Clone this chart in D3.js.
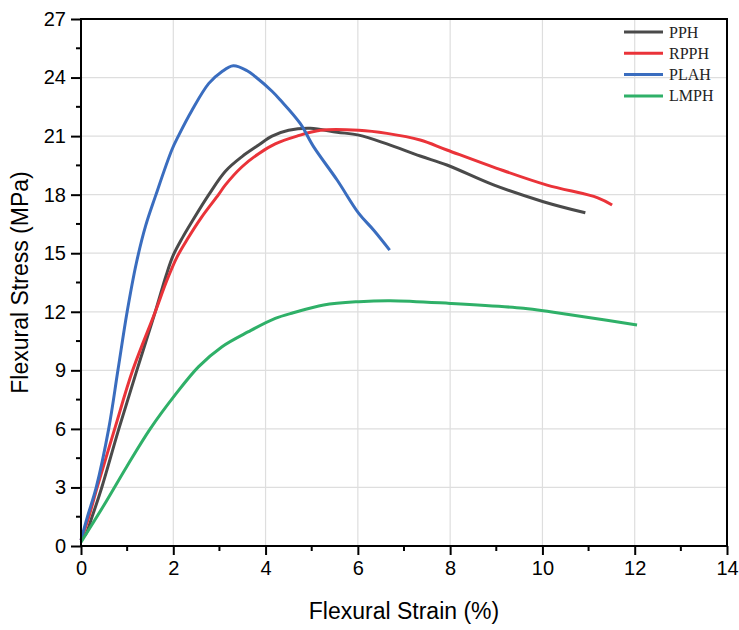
<!DOCTYPE html>
<html>
<head>
<meta charset="utf-8">
<script src="https://cdn.jsdelivr.net/npm/d3@7"></script>
<style>
  body { margin: 0; background: #fff; }
  svg { display: block; }
</style>
</head>
<body>
<div id="chart"></div>
<script>
// values (strain %, stress MPa)
var pphX  = [0, 0.1, 0.24, 0.45, 0.82, 1.21, 1.61, 1.85, 2.0, 2.2, 2.4, 2.77, 3.13, 3.49, 3.85, 4.14, 4.5, 4.97, 5.55, 6.02, 6.63, 7.35, 7.93, 8.94, 10.02, 10.93];
var pphY  = [0.4, 0.6, 1.5, 3.0, 6.0, 9.0, 12.0, 13.9, 14.9, 15.8, 16.6, 18.0, 19.2, 19.95, 20.54, 21.0, 21.3, 21.4, 21.2, 21.05, 20.6, 19.98, 19.52, 18.5, 17.64, 17.07];

var rpphX = [0, 0.17, 0.35, 0.73, 1.12, 1.61, 1.86, 2.08, 2.3, 2.6, 2.98, 3.13, 3.49, 3.85, 4.21, 4.68, 5.19, 6.02, 6.63, 7.35, 7.93, 9.01, 10.1, 11.2, 11.51];
var rpphY = [0.3, 1.5, 3.0, 6.0, 9.0, 12.0, 13.6, 14.8, 15.7, 16.8, 18.0, 18.5, 19.43, 20.1, 20.6, 21.0, 21.3, 21.3, 21.14, 20.8, 20.29, 19.35, 18.49, 17.84, 17.47];

var plahX = [0, 0.14, 0.33, 0.6, 0.8, 1.0, 1.2, 1.4, 1.61, 1.97, 2.12, 2.4, 2.77, 3.05, 3.3, 3.6, 3.78, 4.14, 4.32, 4.75, 5.04, 5.55, 6.02, 6.34, 6.69];
var plahY = [0.3, 1.5, 3.0, 6.0, 9.0, 12.0, 14.5, 16.4, 17.9, 20.3, 21.05, 22.3, 23.7, 24.3, 24.6, 24.35, 24.04, 23.3, 22.85, 21.65, 20.46, 18.75, 17.04, 16.19, 15.16];

var lmphX = [0, 0.5, 1.0, 1.5, 2.04, 2.55, 3.05, 3.63, 4.21, 4.6, 5.26, 6.02, 6.7, 8.0, 9.59, 10.17, 10.89, 12.05];
var lmphY = [0.2, 2.1, 4.1, 6.0, 7.74, 9.19, 10.2, 10.98, 11.66, 11.95, 12.35, 12.52, 12.57, 12.43, 12.18, 12.0, 11.75, 11.32];

var seriesNames  = ['PPH', 'RPPH', 'PLAH', 'LMPH'];
var seriesColors = ['#4a4a4a', '#ea3339', '#3a6dbf', '#2fb068'];

var xTicks = [0, 2, 4, 6, 8, 10, 12, 14];
var yTicks = [0, 3, 6, 9, 12, 15, 18, 21, 24, 27];

var width = 739, height = 630;
var margin = {top: 19, right: 12, bottom: 84, left: 81};

var svg = d3.select('#chart')
  .append('svg')
  .attr('width', width)
  .attr('height', height);

var x = d3.scaleLinear().domain([0, 14]).range([margin.left, width - margin.right]);
var y = d3.scaleLinear().domain([0, 27]).range([height - margin.bottom, margin.top]);

// grid
svg.append('g')
  .selectAll('line.gx')
  .data(xTicks.slice(1, -1))
  .enter().append('line')
  .attr('x1', d => x(d)).attr('x2', d => x(d))
  .attr('y1', y(0)).attr('y2', y(27))
  .attr('stroke', '#dedede').attr('stroke-width', 1.2);

svg.append('g')
  .selectAll('line.gy')
  .data(yTicks.slice(1, -1))
  .enter().append('line')
  .attr('x1', x(0)).attr('x2', x(14))
  .attr('y1', d => y(d)).attr('y2', d => y(d))
  .attr('stroke', '#dedede').attr('stroke-width', 1.2);

// curves
var allX = [pphX, rpphX, plahX, lmphX];
var allY = [pphY, rpphY, plahY, lmphY];

var line = d3.line()
  .x(d => x(d[0]))
  .y(d => y(d[1]))
  .curve(d3.curveCatmullRom.alpha(0.5));

seriesNames.forEach(function(name, i) {
  var pts = allX[i].map((v, j) => [v, allY[i][j]]);
  svg.append('path')
    .datum(pts)
    .attr('d', line)
    .attr('fill', 'none')
    .attr('stroke', seriesColors[i])
    .attr('stroke-width', 3)
    .attr('stroke-linejoin', 'round');
});

// axes
var xAxis = d3.axisBottom(x).tickValues(xTicks).tickSize(9).tickPadding(6);
var yAxis = d3.axisLeft(y).tickValues(yTicks).tickSize(10).tickPadding(5);

var gx = svg.append('g')
  .attr('transform', 'translate(0,' + y(0) + ')')
  .call(xAxis);
var gy = svg.append('g')
  .attr('transform', 'translate(' + x(0) + ',0)')
  .call(yAxis);

[gx, gy].forEach(function(g) {
  g.select('.domain').remove();
  g.selectAll('line').attr('stroke', '#000').attr('stroke-width', 2);
  g.selectAll('text')
    .attr('fill', '#000')
    .style('font-family', 'Liberation Sans, Arial, sans-serif')
    .style('font-size', '20px');
});

// minor ticks
svg.append('g')
  .selectAll('line')
  .data(d3.range(1, 14, 2))
  .enter().append('line')
  .attr('x1', d => x(d)).attr('x2', d => x(d))
  .attr('y1', y(0)).attr('y2', y(0) + 5)
  .attr('stroke', '#000').attr('stroke-width', 2);

svg.append('g')
  .selectAll('line')
  .data(d3.range(1.5, 27, 3))
  .enter().append('line')
  .attr('x1', x(0) - 5).attr('x2', x(0))
  .attr('y1', d => y(d)).attr('y2', d => y(d))
  .attr('stroke', '#000').attr('stroke-width', 2);

// frame
svg.append('rect')
  .attr('x', x(0)).attr('y', y(27))
  .attr('width', x(14) - x(0)).attr('height', y(0) - y(27))
  .attr('fill', 'none')
  .attr('stroke', '#000')
  .attr('stroke-width', 2);

// axis titles
svg.append('text')
  .attr('x', (x(0) + x(14)) / 2)
  .attr('y', 619)
  .attr('text-anchor', 'middle')
  .style('font-family', 'Liberation Sans, Arial, sans-serif')
  .style('font-size', '23px')
  .text('Flexural Strain (%)');

svg.append('text')
  .attr('transform', 'translate(28,' + (y(0) + y(27)) / 2 + ') rotate(-90)')
  .attr('text-anchor', 'middle')
  .style('font-family', 'Liberation Sans, Arial, sans-serif')
  .style('font-size', '23px')
  .text('Flexural Stress (MPa)');

// legend
var legend = svg.append('g').attr('transform', 'translate(624,32)');
seriesNames.forEach(function(name, i) {
  var row = legend.append('g').attr('transform', 'translate(0,' + (i * 21.3) + ')');
  row.append('line')
    .attr('x1', 0).attr('x2', 39)
    .attr('y1', 0).attr('y2', 0)
    .attr('stroke', seriesColors[i])
    .attr('stroke-width', 3);
  row.append('text')
    .attr('x', 45).attr('y', 5.5)
    .style('font-family', 'Liberation Serif, Times New Roman, serif')
    .style('font-size', '16px')
    .attr('fill', '#222')
    .text(name);
});
</script>
</body>
</html>
